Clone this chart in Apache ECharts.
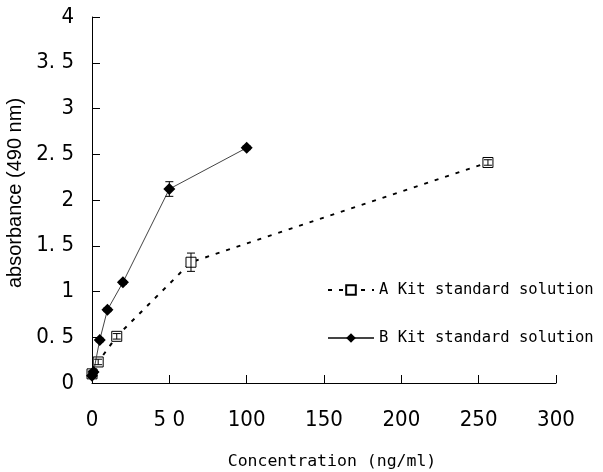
<!DOCTYPE html>
<html>
<head>
    <meta charset="UTF-8">
    <title>absorbance chart</title>
    <script src="https://cdn.jsdelivr.net/npm/echarts@6/dist/echarts.min.js"></script>
    <style>
        html, body { margin: 0; padding: 0; background: #fff; }
        #chart { width: 603px; height: 472px; }
    </style>
</head>
<body>
    <div id="chart"></div>

    <script>
        // data
        const aConc = [0, 4, 16, 64, 256];
        const aAbs = [0.10, 0.23, 0.51, 1.32, 2.41];
        const aErr = [0.03, 0.03, 0.03, 0.10, 0.03];

        const bConc = [0, 1, 5, 10, 20, 50, 100];
        const bAbs = [0.08, 0.12, 0.47, 0.80, 1.10, 2.12, 2.57];
        const bErr = [0.02, 0.02, 0.02, 0.02, 0.02, 0.08, 0.02];

        const xTickLabels = ['0', '5 0', '100', '150', '200', '250', '300'];
        const yTickLabels = ['0', '0. 5', '1', '1. 5', '2', '2. 5', '3', '3. 5', '4'];

        const nameA = 'A Kit standard solution';
        const nameB = 'B Kit standard solution';

        const tickFont = "'Liberation Sans Narrow', 'DejaVu Sans Condensed', sans-serif";
        const monoFont = "'DejaVu Sans Mono', monospace";
        const sansFont = "'Liberation Sans', Arial, sans-serif";

        const pairs = (xs, ys) => xs.map((x, i) => [x, ys[i]]);
        const errRows = (xs, ys, es) => xs.map((x, i) => [x, ys[i] - es[i], ys[i] + es[i]]);

        // vertical error bar with caps
        function errorBar(params, api) {
            const lo = api.coord([api.value(0), api.value(1)]);
            const hi = api.coord([api.value(0), api.value(2)]);
            const w = 4;
            const style = { stroke: '#000', lineWidth: 1 };
            return {
                type: 'group',
                children: [
                    { type: 'line', shape: { x1: lo[0], y1: lo[1], x2: hi[0], y2: hi[1] }, style },
                    { type: 'line', shape: { x1: lo[0] - w, y1: lo[1], x2: lo[0] + w, y2: lo[1] }, style },
                    { type: 'line', shape: { x1: hi[0] - w, y1: hi[1], x2: hi[0] + w, y2: hi[1] }, style }
                ]
            };
        }

        const chart = echarts.init(document.getElementById('chart'));

        const option = {
            animation: false,
            backgroundColor: '#fff',
            grid: { left: 92, right: 47, top: 17, bottom: 89, containLabel: false, outerBoundsMode: 'none' },
            legend: {
                data: [nameA, nameB],
                orient: 'vertical',
                left: 322,
                top: 277,
                itemWidth: 46,
                itemHeight: 12,
                itemGap: 32,
                textStyle: { fontFamily: monoFont, fontSize: 15.5, color: '#000' }
            },
            xAxis: {
                type: 'value',
                min: 0,
                max: 300,
                interval: 50,
                name: 'Concentration (ng/ml)',
                nameLocation: 'middle',
                nameGap: 70,
                nameTextStyle: { fontFamily: monoFont, fontSize: 16.5, color: '#000', padding: [0, 0, 0, 16] },
                axisLine: { lineStyle: { color: '#000', width: 1 } },
                axisTick: { inside: true, length: 8, lineStyle: { color: '#000' } },
                axisLabel: {
                    margin: 26,
                    fontFamily: tickFont,
                    fontSize: 22,
                    color: '#000',
                    formatter: v => xTickLabels[Math.round(v / 50)]
                },
                splitLine: { show: false }
            },
            yAxis: {
                type: 'value',
                min: 0,
                max: 4,
                interval: 0.5,
                name: 'absorbance (490 nm)',
                nameLocation: 'middle',
                nameRotate: 90,
                nameGap: 60,
                nameTextStyle: { fontFamily: sansFont, fontSize: 20, color: '#000', padding: [0, 0, 0, 14] },
                axisLine: { show: true, lineStyle: { color: '#000', width: 1 } },
                axisTick: { show: true, inside: true, length: 8, lineStyle: { color: '#000' } },
                axisLabel: {
                    margin: 18,
                    fontFamily: tickFont,
                    fontSize: 22,
                    color: '#000',
                    formatter: v => yTickLabels[Math.round(v / 0.5)]
                },
                splitLine: { show: false }
            },
            series: [
                {
                    name: nameA,
                    type: 'line',
                    data: pairs(aConc, aAbs),
                    symbol: 'rect',
                    symbolSize: 10,
                    itemStyle: { color: '#fff', borderColor: '#000', borderWidth: 1 },
                    lineStyle: { color: '#000', width: 2, type: [4, 7] },
                    z: 2
                },
                {
                    name: nameB,
                    type: 'line',
                    data: pairs(bConc, bAbs),
                    symbol: 'diamond',
                    symbolSize: 12,
                    itemStyle: { color: '#000' },
                    lineStyle: { color: '#444', width: 1 },
                    z: 3
                },
                {
                    name: 'A error',
                    type: 'custom',
                    renderItem: errorBar,
                    data: errRows(aConc, aAbs, aErr),
                    encode: { x: 0, y: [1, 2] },
                    z: 4
                },
                {
                    name: 'B error',
                    type: 'custom',
                    renderItem: errorBar,
                    data: errRows(bConc, bAbs, bErr),
                    encode: { x: 0, y: [1, 2] },
                    z: 4
                }
            ]
        };

        chart.setOption(option);
    </script>
</body>
</html>
